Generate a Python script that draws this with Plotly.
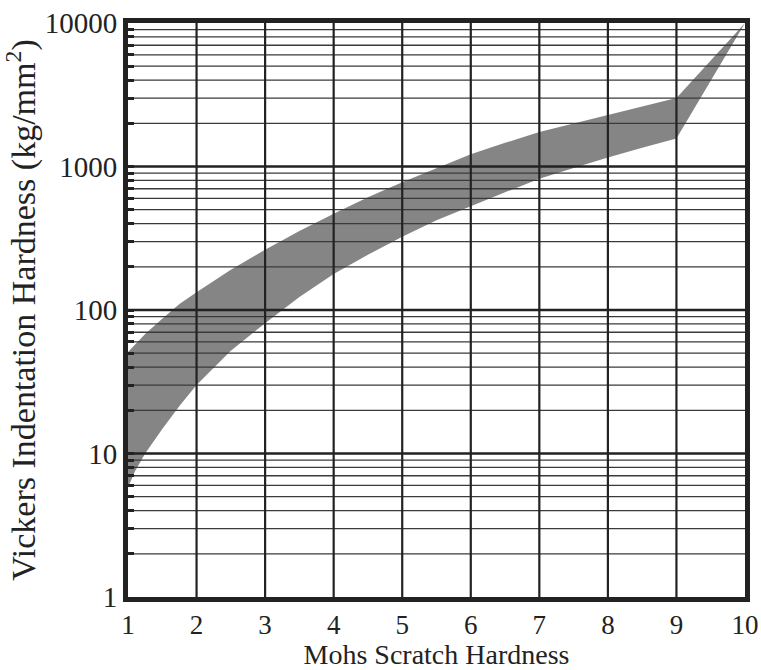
import plotly.graph_objects as go

# Band data
upper_x = [1, 1.25, 1.5, 1.75, 2, 2.5, 3, 3.5, 4, 4.5, 5, 5.5, 6, 6.5, 7, 7.5, 8, 8.5, 9, 10]
upper_y = [51, 68, 87, 110, 133, 191, 263, 355, 468, 610, 776, 977, 1216, 1462, 1738, 1995, 2291, 2630, 3000, 10000]
lower_x = [1, 1.1, 1.25, 1.5, 1.75, 2, 2.5, 3, 3.5, 4, 4.5, 5, 5.5, 6, 6.5, 7, 7.5, 8, 8.5, 9, 10]
lower_y = [5.8, 7.5, 10, 14.8, 21.4, 30, 52, 81, 123, 178, 243, 324, 422, 531, 661, 822, 977, 1156, 1349, 1570, 10000]

x_ticks = [1, 2, 3, 4, 5, 6, 7, 8, 9, 10]
y_major = [1, 10, 100, 1000, 10000]
y_major_labels = ["1", "10", "100", "1000", "10000"]
minor_mult = [2, 3, 4, 5, 6, 7, 8, 9]

FONT = "Liberation Serif"
DARK = "#222222"

fig = go.Figure()

# filled band (polygon)
fig.add_trace(go.Scatter(
    x=upper_x + lower_x[::-1], y=upper_y + lower_y[::-1],
    fill="toself", fillcolor="#858585", mode="lines",
    line=dict(width=0, color="#858585"), hoverinfo="skip", showlegend=False))

# minor horizontal grid lines
xmin, xmax = x_ticks[0], x_ticks[-1]
minor_vals = [m * d for d in y_major[:-1] for m in minor_mult]
mx, my = [], []
for v in minor_vals:
    mx += [xmin, xmax, None]
    my += [v, v, None]
fig.add_trace(go.Scatter(x=mx, y=my, mode="lines", line=dict(color="#3a3a3a", width=1.3),
                         hoverinfo="skip", showlegend=False))

# major horizontal grid lines
hx, hy = [], []
for v in y_major[1:-1]:
    hx += [xmin, xmax, None]
    hy += [v, v, None]
fig.add_trace(go.Scatter(x=hx, y=hy, mode="lines", line=dict(color=DARK, width=2.5),
                         hoverinfo="skip", showlegend=False))

# vertical grid lines
vx, vy = [], []
for t in x_ticks[1:-1]:
    vx += [t, t, None]
    vy += [y_major[0], y_major[-1], None]
fig.add_trace(go.Scatter(x=vx, y=vy, mode="lines", line=dict(color=DARK, width=2.2),
                         hoverinfo="skip", showlegend=False))

fig.update_layout(
    width=761, height=670,
    margin=dict(l=128, r=16, t=23, b=73),
    paper_bgcolor="white", plot_bgcolor="white",
    font=dict(family=FONT, size=29, color=DARK),
    xaxis=dict(
        range=[1, 10], tickvals=x_ticks, ticktext=[str(v) for v in x_ticks],
        showgrid=False, zeroline=False, showline=True, mirror=True, automargin=False,
        linewidth=5, linecolor=DARK, ticks="", ticklabelstandoff=0,
        ticklabeloverflow="allow",
        tickfont=dict(family=FONT, size=27, color=DARK),
        title=dict(text="Mohs Scratch Hardness", font=dict(family=FONT, size=28, color=DARK), standoff=0),
    ),
    yaxis=dict(
        type="log", range=[0, 4], tickvals=y_major, ticktext=y_major_labels,
        showgrid=False, zeroline=False, showline=True, mirror=True, automargin=False,
        linewidth=5, linecolor=DARK, ticks="inside", ticklen=6, tickwidth=2.5,
        tickcolor=DARK, ticklabelstandoff=0, ticklabeloverflow="allow",
        tickfont=dict(family=FONT, size=29, color=DARK),
        minor=dict(tickvals=minor_vals, ticks="inside", ticklen=6, tickwidth=2.5,
                   tickcolor=DARK, showgrid=False),
        title=dict(text="Vickers Indentation Hardness (kg/mm<sup>2</sup>)",
                   font=dict(family=FONT, size=34, color=DARK), standoff=4),
    ),
)

# remove the browser's default 8px body margin so the figure fills the window
fig.write_html("out.html", config={"displayModeBar": False},
               post_script="document.body.style.margin='0';document.body.style.overflow='hidden';")
